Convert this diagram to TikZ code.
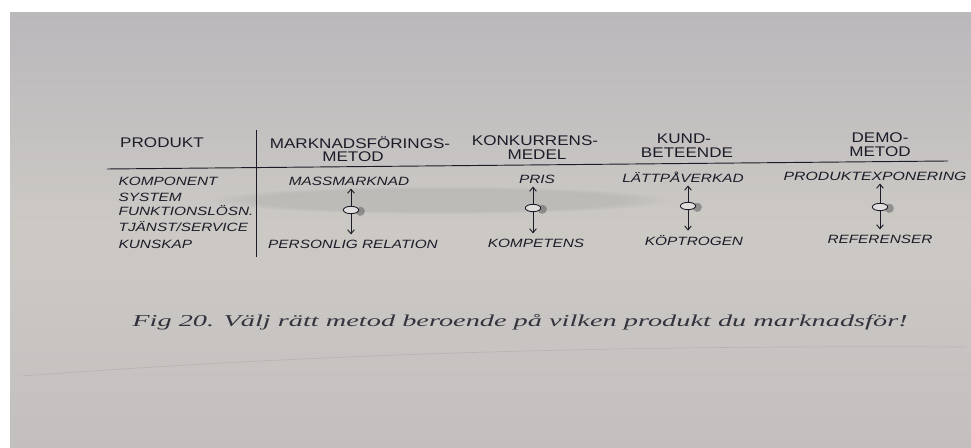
\documentclass[tikz,border=0pt]{standalone}
\usepackage{fontspec}
\setmainfont{Liberation Serif}
\setsansfont{Liberation Sans}
\usetikzlibrary{arrows.meta,shapes.geometric,positioning,fadings}

\definecolor{papper}{RGB}{198,195,192}
\definecolor{blyerts}{RGB}{28,28,40}

\begin{document}
\begin{tikzpicture}[x=0.75pt,y=0.75pt,yscale=-1,xscale=1,
  rubrik/.style={font=\sffamily\fontsize{10.5}{10.5}\selectfont, text=blyerts, inner sep=0.5pt, xscale=1.22},
  hand/.style={font=\sffamily\itshape\fontsize{9}{9}\selectfont, text=blyerts, inner sep=0.75pt, xscale=1.28},
  oval/.style={ellipse, draw=blyerts, line width=0.65pt, fill=papper!55!white, minimum width=11.5pt, minimum height=5.5pt, inner sep=0pt},
  pil/.style={draw=blyerts, line width=0.7pt, -{Straight Barb[length=3pt,width=5pt]}},
  skugga/.style={fill=black!70, opacity=0.45, path fading=circle with fuzzy edge 15 percent}]
\useasboundingbox (0,0) rectangle (971,448);

%paper
\fill[white] (0,0) rectangle (971,448);
\shade[top color={rgb,255:red,186;green,184;blue,187}, bottom color={rgb,255:red,195;green,191;blue,191}, middle color={rgb,255:red,204;green,201;blue,197}] (10,13) rectangle (971,448);
%grey smear from the copy
\fill[black!60, opacity=0.12, path fading=circle with fuzzy edge 20 percent] (440,200) ellipse (230 and 14);
%faint fold under the caption
\draw[black!40, opacity=0.35, line width=0.5pt] (22,376) .. controls (300,355) and (600,345) .. (966,347);

%Straight Lines
\draw[blyerts, line width=0.7pt] (256,130) -- (256,257);
\draw[blyerts, line width=0.7pt] (107,169) -- (948,161);

% Text Node
\node[rubrik] (produkt) at (162,143) {PRODUKT};
\node[rubrik] (mfm1) at (360,143) {MARKNADSFÖRINGS-};
\node[rubrik] (mfm2) at (353,157) {METOD};
\node[rubrik] (konk1) at (535,141) {KONKURRENS-};
\node[rubrik] (konk2) at (537,155) {MEDEL};
\node[rubrik] (kund1) at (684,139) {KUND-};
\node[rubrik] (kund2) at (687,153) {BETEENDE};
\node[rubrik] (demo1) at (880,138) {DEMO-};
\node[rubrik] (demo2) at (880,152) {METOD};

% Text Node
\node[hand, anchor=west] (komp) at (117,181) {KOMPONENT};
\node[hand, anchor=west] (sys) at (117,197) {SYSTEM};
\node[hand, anchor=west] (funk) at (117,211) {FUNKTIONSLÖSN.};
\node[hand, anchor=west] (tjanst) at (117,227) {TJÄNST/SERVICE};
\node[hand, anchor=west] (kunskap) at (117,244) {KUNSKAP};

% Text Node
\node[hand] (mass) at (349,181) {MASSMARKNAD};
\node[hand] (pris) at (537,179) {PRIS};
\node[hand] (latt) at (683,177) {LÄTTPÅVERKAD};
\node[hand, anchor=west, xscale=1.03] (prodexp) at (782,176) {PRODUKTEXPONERING};
\node[hand] (pers) at (353,244) {PERSONLIG RELATION};
\node[hand] (kompet) at (536,243) {KOMPETENS};
\node[hand] (kop) at (694,241) {KÖPTROGEN};
\node[hand] (ref) at (880,239) {REFERENSER};

%Shape: Ellipse
\fill[skugga] (360,211) circle (5);
\fill[skugga] (542,209) circle (5);
\fill[skugga] (697,207) circle (5);
\fill[skugga] (889,208) circle (5);
\node[oval] (o1) at (351,210) {};
\node[oval] (o2) at (533,208) {};
\node[oval] (o3) at (688,206) {};
\node[oval] (o4) at (880,207) {};

%Arrows
\draw[pil, shorten >=1.5pt] (o1.north) -- (o1.north |- mass.south);
\draw[pil, shorten >=3pt] (o1.south) -- (o1.south |- pers.north);
\draw[pil, shorten >=1.5pt] (o2.north) -- (o2.north |- pris.south);
\draw[pil, shorten >=3pt] (o2.south) -- (o2.south |- kompet.north);
\draw[pil, shorten >=1.5pt] (o3.north) -- (o3.north |- latt.south);
\draw[pil, shorten >=3pt] (o3.south) -- (o3.south |- kop.north);
\draw[pil, shorten >=1.5pt] (o4.north) -- (o4.north |- prodexp.south);
\draw[pil, shorten >=3pt] (o4.south) -- (o4.south |- ref.north);

% Text Node
\node[font=\itshape\fontsize{12.5}{12.5}\selectfont, text=blyerts!90, inner sep=0.75pt, xscale=1.7] (fig) at (520,322) {Fig 20. Välj rätt metod beroende på vilken produkt du marknadsför!};

\end{tikzpicture}
\end{document}
